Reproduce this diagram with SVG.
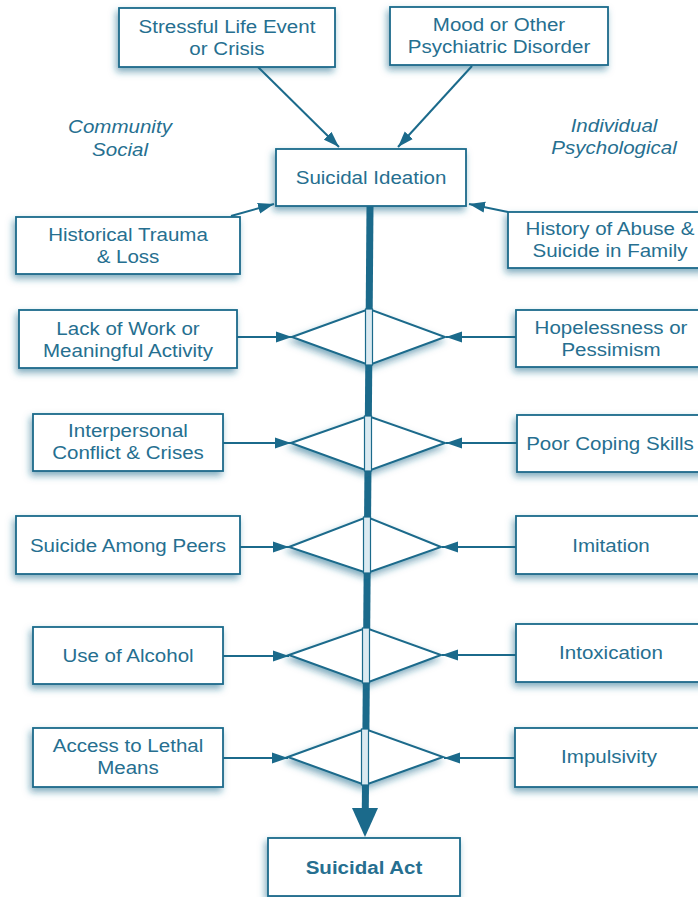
<svg xmlns="http://www.w3.org/2000/svg" width="698" height="897" viewBox="0 0 698 897">
<style>
.box{fill:#ffffff;stroke:#1b6a8b;stroke-width:1.8;filter:url(#sh)}
.dia{fill:#ffffff;stroke:#1b6a8b;stroke-width:2;filter:url(#sh)}
.stripe{fill:#dbeaf1;stroke:#1b6a8b;stroke-width:1.2}
.t{font-family:"Liberation Sans",Arial,sans-serif;font-size:18.5px;fill:#266f90;text-anchor:middle}
.b{font-weight:bold}
.i{font-style:italic}
.con{stroke:#1b6a8b;stroke-width:2;fill:none;marker-end:url(#ah)}
.spine{stroke:#1b6a8b;stroke-width:7;fill:none}
</style>
<defs>
<filter id="sh" x="-20%" y="-30%" width="140%" height="170%">
<feGaussianBlur in="SourceAlpha" stdDeviation="3.5"/>
<feOffset dx="-2" dy="4" result="b"/>
<feFlood flood-color="#1b6a8b" flood-opacity="0.55"/>
<feComposite in2="b" operator="in"/>
<feMerge><feMergeNode/><feMergeNode in="SourceGraphic"/></feMerge>
</filter>
<marker id="ah" markerUnits="userSpaceOnUse" markerWidth="17" markerHeight="12" refX="16" refY="6" orient="auto">
<path d="M0,0.5 L16,6 L0,11.5 z" fill="#1b6a8b"/>
</marker>
</defs>

<g id="connectors">
<line class="con" x1="258" y1="67" x2="339" y2="147"/>
<line class="con" x1="472" y1="66" x2="398" y2="147"/>
<line class="con" x1="231" y1="216" x2="274" y2="204"/>
<line class="con" x1="508" y1="212" x2="469" y2="204"/>
<line class="spine" x1="370" y1="206" x2="365.3" y2="809"/>
<polygon points="352,808 378,808 365,837" fill="#1b6a8b"/>
<line class="con" x1="237" y1="337" x2="292" y2="337"/>
<line class="con" x1="516" y1="337" x2="446" y2="337"/>
<line class="con" x1="223" y1="443" x2="291" y2="443"/>
<line class="con" x1="517" y1="443" x2="446" y2="443"/>
<line class="con" x1="240" y1="547" x2="289" y2="547"/>
<line class="con" x1="516" y1="547" x2="442" y2="547"/>
<line class="con" x1="223" y1="656" x2="289" y2="656"/>
<line class="con" x1="516" y1="655" x2="442" y2="655"/>
<line class="con" x1="223" y1="758" x2="288" y2="758"/>
<line class="con" x1="515" y1="758" x2="444" y2="758"/>
</g>

<g id="d1"><polygon class="dia" points="292,337 369,309 445,337 369,365"/><rect class="stripe" x="365.5" y="309" width="7" height="56"/></g>
<g id="d2"><polygon class="dia" points="291,443 368,416 445,443 368,471"/><rect class="stripe" x="364.5" y="416" width="7" height="55"/></g>
<g id="d3"><polygon class="dia" points="289,547 367,517 441,547 367,573"/><rect class="stripe" x="363.5" y="517" width="7" height="56"/></g>
<g id="d4"><polygon class="dia" points="289,655 366,628 441,655 366,683"/><rect class="stripe" x="362.5" y="628" width="7" height="55"/></g>
<g id="d5"><polygon class="dia" points="288,757 365,729 443,757 365,785"/><rect class="stripe" x="361.5" y="729" width="7" height="56"/></g>

<g id="n-stressful"><rect class="box" x="119" y="8" width="216" height="59"/>
<text class="t" transform="matrix(1.11 0 0 1 227 0)" y="33"><tspan x="0">Stressful Life Event</tspan><tspan x="0" y="55">or Crisis</tspan></text></g>
<g id="n-mood"><rect class="box" x="390" y="7" width="218" height="58"/>
<text class="t" transform="matrix(1.11 0 0 1 499 0)" y="31"><tspan x="0">Mood or Other</tspan><tspan x="0" y="53">Psychiatric Disorder</tspan></text></g>
<g id="n-ideation"><rect class="box" x="276" y="149" width="190" height="57"/>
<text class="t" transform="matrix(1.11 0 0 1 371 0)" x="0" y="184">Suicidal Ideation</text></g>
<g id="lbl-community"><text class="t i" transform="matrix(1.11 0 0 1 120 0)"><tspan x="0" y="133">Community</tspan><tspan x="0" y="156">Social</tspan></text></g>
<g id="lbl-individual"><text class="t i" transform="matrix(1.11 0 0 1 614 0)"><tspan x="0" y="132">Individual</tspan><tspan x="0" y="154">Psychological</tspan></text></g>
<g id="n-historical"><rect class="box" x="16" y="217" width="224" height="57"/>
<text class="t" transform="matrix(1.11 0 0 1 128 0)"><tspan x="0" y="241">Historical Trauma</tspan><tspan x="0" y="263">&amp; Loss</tspan></text></g>
<g id="n-abuse"><rect class="box" x="508" y="212" width="198" height="56"/>
<text class="t" transform="matrix(1.11 0 0 1 610 0)"><tspan x="0" y="235">History of Abuse &amp;</tspan><tspan x="0" y="257">Suicide in Family</tspan></text></g>
<g id="n-lackwork"><rect class="box" x="19" y="310" width="218" height="58"/>
<text class="t" transform="matrix(1.11 0 0 1 128 0)"><tspan x="0" y="335">Lack of Work or</tspan><tspan x="0" y="357">Meaningful Activity</tspan></text></g>
<g id="n-hopeless"><rect class="box" x="516" y="310" width="190" height="57"/>
<text class="t" transform="matrix(1.11 0 0 1 611 0)"><tspan x="0" y="334">Hopelessness or</tspan><tspan x="0" y="356">Pessimism</tspan></text></g>
<g id="n-interpersonal"><rect class="box" x="33" y="414" width="190" height="57"/>
<text class="t" transform="matrix(1.11 0 0 1 128 0)"><tspan x="0" y="437">Interpersonal</tspan><tspan x="0" y="459">Conflict &amp; Crises</tspan></text></g>
<g id="n-coping"><rect class="box" x="517" y="415" width="190" height="57"/>
<text class="t" transform="matrix(1.11 0 0 1 610 0)" x="0" y="450">Poor Coping Skills</text></g>
<g id="n-peers"><rect class="box" x="16" y="516" width="224" height="58"/>
<text class="t" transform="matrix(1.11 0 0 1 128 0)" x="0" y="552">Suicide Among Peers</text></g>
<g id="n-imitation"><rect class="box" x="516" y="516" width="190" height="58"/>
<text class="t" transform="matrix(1.11 0 0 1 611 0)" x="0" y="552">Imitation</text></g>
<g id="n-alcohol"><rect class="box" x="33" y="627" width="190" height="57"/>
<text class="t" transform="matrix(1.11 0 0 1 128 0)" x="0" y="662">Use of Alcohol</text></g>
<g id="n-intox"><rect class="box" x="516" y="624" width="190" height="58"/>
<text class="t" transform="matrix(1.11 0 0 1 611 0)" x="0" y="659">Intoxication</text></g>
<g id="n-access"><rect class="box" x="33" y="728" width="190" height="59"/>
<text class="t" transform="matrix(1.11 0 0 1 128 0)"><tspan x="0" y="752">Access to Lethal</tspan><tspan x="0" y="774">Means</tspan></text></g>
<g id="n-impulsivity"><rect class="box" x="515" y="728" width="191" height="59"/>
<text class="t" transform="matrix(1.11 0 0 1 609 0)" x="0" y="763">Impulsivity</text></g>
<g id="n-act"><rect class="box" x="268" y="838" width="192" height="58"/>
<text class="t b" transform="matrix(1.11 0 0 1 364 0)" x="0" y="874">Suicidal Act</text></g>
</svg>
